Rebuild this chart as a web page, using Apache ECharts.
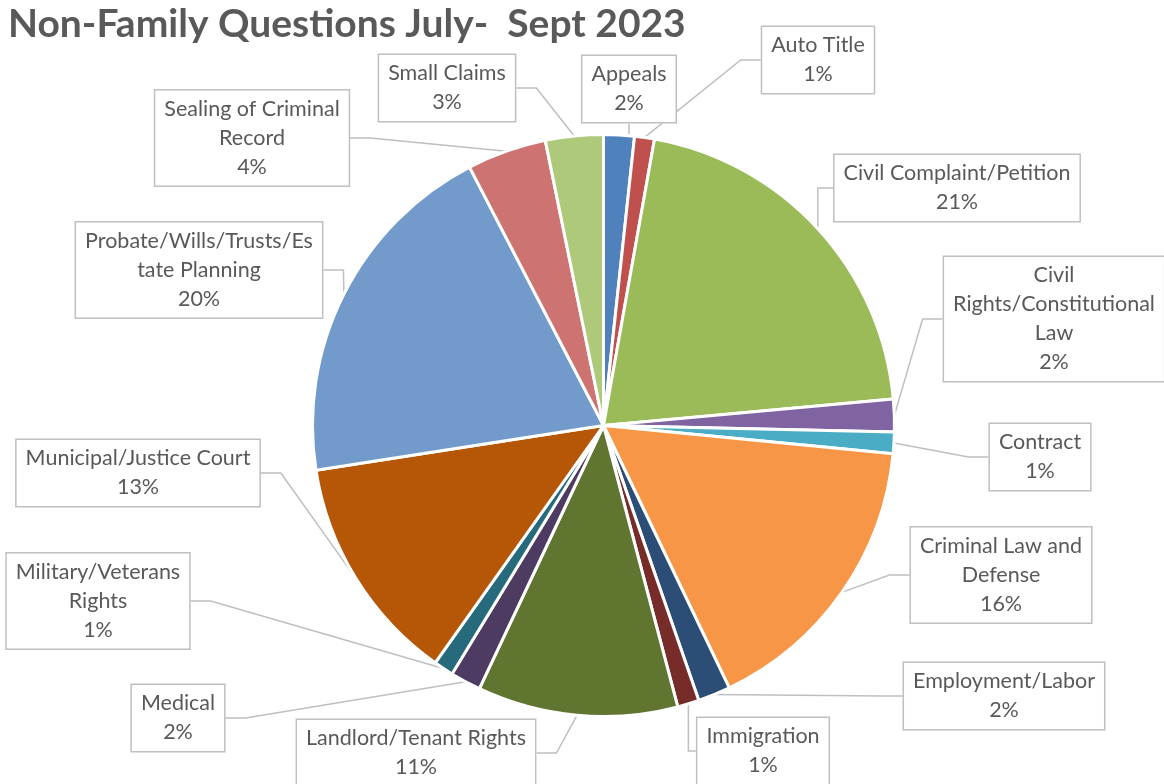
<!DOCTYPE html>
<html>
<head>
<meta charset="utf-8">
<title>Non-Family Questions July- Sept 2023</title>
<script src="https://cdn.jsdelivr.net/npm/echarts@6/dist/echarts.min.js"></script>
<style>
  html, body { margin: 0; padding: 0; background: #ffffff; }
  #chart { width: 1164px; height: 784px; }
</style>
</head>
<body>
<div id="chart"></div>
<script>
// Question topics, clockwise from 12 o'clock
const categories = [
  'Appeals', 'Auto Title', 'Civil Complaint/Petition', 'Civil Rights/Constitutional Law',
  'Contract', 'Criminal Law and Defense', 'Employment/Labor', 'Immigration',
  'Landlord/Tenant Rights', 'Medical', 'Military/Veterans Rights', 'Municipal/Justice Court',
  'Probate/Wills/Trusts/Estate Planning', 'Sealing of Criminal Record', 'Small Claims'
];

// Number of questions per topic
const questionCounts = [17, 11, 207, 18, 12, 163, 18, 12, 111, 17, 11, 127, 198, 44, 32];

// Wrapped label text shown in the callout boxes
const labelText = [
  'Appeals', 'Auto Title', 'Civil Complaint/Petition', 'Civil\nRights/Constitutional\nLaw',
  'Contract', 'Criminal Law and\nDefense', 'Employment/Labor', 'Immigration',
  'Landlord/Tenant Rights', 'Medical', 'Military/Veterans\nRights', 'Municipal/Justice Court',
  'Probate/Wills/Trusts/Es\ntate Planning', 'Sealing of Criminal\nRecord', 'Small Claims'
];

// Slice colours (Office palette: base, darker, lighter)
const sliceColors = [
  '#4F81BD', '#C0504D', '#9BBB59', '#8064A2', '#4BACC6', '#F79646',
  '#2C4D75', '#772C2A', '#5F7530', '#4D3B62', '#276A7C', '#B65708',
  '#729ACA', '#CD7371', '#AFC97A'
];

// Callout box centres (page pixels)
const calloutCenters = [
  [629, 89], [818, 60], [957, 188], [1054, 319], [1040, 457], [1001, 575],
  [1004, 696], [763, 751], [416, 753], [178, 718], [98, 601], [138, 473],
  [199, 270], [252, 138], [447, 88]
];

const chart = echarts.init(document.getElementById('chart'), null, { renderer: 'canvas' });

const FONT = 'Lato, "Open Sans", sans-serif';

chart.setOption({
  animation: false,
  backgroundColor: '#ffffff',
  title: {
    text: 'Non-Family Questions July-  Sept 2023',
    left: 3,
    top: 0,
    textStyle: {
      fontFamily: FONT,
      fontSize: 39,
      fontWeight: 'bold',
      color: '#595959'
    }
  },
  series: [{
    type: 'pie',
    center: [603.5, 425.5],
    radius: [0, 291],
    startAngle: 90,
    clockwise: true,
    avoidLabelOverlap: false,
    data: categories.map((name, i) => ({
      name: name,
      value: questionCounts[i],
      itemStyle: { color: sliceColors[i] }
    })),
    itemStyle: {
      borderColor: '#ffffff',
      borderWidth: 3
    },
    label: {
      show: true,
      position: 'outside',
      formatter: (p) => labelText[p.dataIndex] + '\n' + Math.round(p.percent) + '%',
      fontFamily: FONT,
      fontSize: 21.5,
      lineHeight: 29,
      color: '#595959',
      align: 'center',
      backgroundColor: '#ffffff',
      borderColor: '#bfbfbf',
      borderWidth: 1.5,
      padding: [4, 9, 4, 9]
    },
    labelLine: {
      show: true,
      length: 20,
      length2: 20,
      smooth: false,
      lineStyle: { color: '#bfbfbf', width: 1.5 }
    },
    labelLayout: (params) => {
      const c = calloutCenters[params.dataIndex];
      return {
        x: c[0],
        y: c[1],
        align: 'center',
        verticalAlign: 'middle'
      };
    }
  }]
});
</script>
</body>
</html>
